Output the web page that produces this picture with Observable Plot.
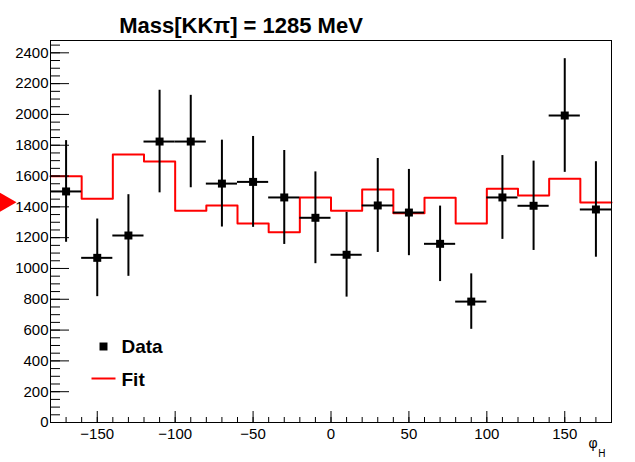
<!DOCTYPE html>
<html><head><meta charset="utf-8">
<script src="https://cdn.jsdelivr.net/npm/d3@7"></script>
<script src="https://cdn.jsdelivr.net/npm/@observablehq/plot@0.6"></script>
<style>body{margin:0;background:#fff;} #chart svg{display:block;}</style>
</head><body><div id="chart"></div>
<script>
const binCenters = [-170,-150,-130,-110,-90,-70,-50,-30,-10,10,30,50,70,90,110,130,150,170];
const dataValues = [1500,1069,1214,1824,1824,1551,1562,1461,1329,1089,1409,1363,1160,785,1461,1407,1993,1383];
const dataErrors = [330,252,265,333,300,282,295,305,298,275,305,280,245,180,272,290,369,310];
const fitValues  = [1599,1452,1740,1694,1374,1409,1292,1235,1461,1374,1513,1359,1459,1292,1517,1474,1582,1428];
const binWidth = 20;
const xDomain = [-180, 180];
const yDomain = [0, 2480];
const xMajorTicks = [-150,-100,-50,0,50,100,150];
const xMinorTicks = d3.range(-170, 180, 10);
const yMajorTicks = [0,200,400,600,800,1000,1200,1400,1600,1800,2000,2200,2400];
const yMinorTicks = d3.range(0, 2451, 50);
const titleText = "Mass[KKπ] = 1285 MeV";
const legendLabels = ["Data", "Fit"];
const arrowValue = 1430;

const points = binCenters.map((c, i) => ({x: c, y: dataValues[i], e: dataErrors[i]}));
const fitSteps = binCenters.map((c, i) => ({x: c - binWidth / 2, y: fitValues[i]}));
fitSteps.push({x: binCenters[binCenters.length - 1] + binWidth / 2, y: fitValues[fitValues.length - 1]});

const fmt = d => d < 0 ? "\u2212" + (-d) : String(d);
const lineSymbol = {draw(ctx) { ctx.moveTo(-12, 0); ctx.lineTo(12, 0); }};

const chart = Plot.plot({
  width: 635, height: 462,
  marginLeft: 50, marginRight: 24, marginTop: 40, marginBottom: 40,
  style: {fontFamily: "'Liberation Sans', Arial, Helvetica, sans-serif", fontSize: "15px", background: "#fff", color: "#000"},
  x: {domain: xDomain, axis: null},
  y: {domain: yDomain, axis: null},
  marks: [
    // fit step histogram
    Plot.line(fitSteps, {x: "x", y: "y", curve: "step-after", stroke: "#ff0000", strokeWidth: 2}),
    // data error bars
    Plot.ruleY(points, {y: "y", x1: d => d.x - binWidth / 2, x2: d => d.x + binWidth / 2, stroke: "#000", strokeWidth: 2}),
    Plot.ruleX(points, {x: "x", y1: d => d.y - d.e, y2: d => d.y + d.e, stroke: "#000", strokeWidth: 2}),
    Plot.dot(points, {x: "x", y: "y", symbol: "square", r: 4.5, fill: "#000", stroke: null}),
    // frame
    Plot.frame({stroke: "#000", strokeWidth: 1}),
    // inward ticks
    Plot.axisX({anchor: "top", frameAnchor: "bottom", ticks: xMajorTicks, tickSize: 12, text: null, label: null}),
    Plot.axisX({anchor: "top", frameAnchor: "bottom", ticks: xMinorTicks, tickSize: 6, text: null, label: null}),
    Plot.axisY({anchor: "right", frameAnchor: "left", ticks: yMajorTicks, tickSize: 18, text: null, label: null}),
    Plot.axisY({anchor: "right", frameAnchor: "left", ticks: yMinorTicks, tickSize: 9, text: null, label: null}),
    // tick labels
    Plot.axisX({anchor: "bottom", ticks: xMajorTicks, tickSize: 0, tickPadding: 6, tickFormat: fmt, label: null, fontSize: 15}),
    Plot.axisY({anchor: "left", ticks: yMajorTicks, tickSize: 0, tickPadding: 2, tickFormat: fmt, label: null, fontSize: 15}),
    // title
    Plot.text([titleText], {text: d => d, frameAnchor: "top", dx: -90, dy: -8, lineAnchor: "bottom", fontSize: 22, fontWeight: "bold"}),
    // x axis label phi_H
    Plot.text(["\u03c6"], {text: d => d, frameAnchor: "bottom-right", dx: -14, dy: 25, fontSize: 14}),
    Plot.text(["H"], {text: d => d, frameAnchor: "bottom-right", dx: -6, dy: 34, fontSize: 10}),
    // red arrow at left
    Plot.dot([arrowValue], {y: d => d, frameAnchor: "left", dx: -50, symbol: "triangle", rotate: 90, r: 10.3, fill: "#ff0000", stroke: null}),
    // legend
    Plot.dot([legendLabels[0]], {frameAnchor: "top-left", dx: 53, dy: 306, symbol: "square", r: 4.5, fill: "#000", stroke: null}),
    Plot.text([legendLabels[0]], {text: d => d, frameAnchor: "top-left", dx: 71, dy: 306, textAnchor: "start", lineAnchor: "middle", fontSize: 19, fontWeight: "bold"}),
    Plot.dot([legendLabels[1]], {frameAnchor: "top-left", dx: 53, dy: 338, symbol: lineSymbol, r: 5, stroke: "#ff0000", strokeWidth: 2, fill: "none"}),
    Plot.text([legendLabels[1]], {text: d => d, frameAnchor: "top-left", dx: 71, dy: 339, textAnchor: "start", lineAnchor: "middle", fontSize: 19, fontWeight: "bold"})
  ]
});
document.getElementById("chart").appendChild(chart);
</script>
</body></html>
